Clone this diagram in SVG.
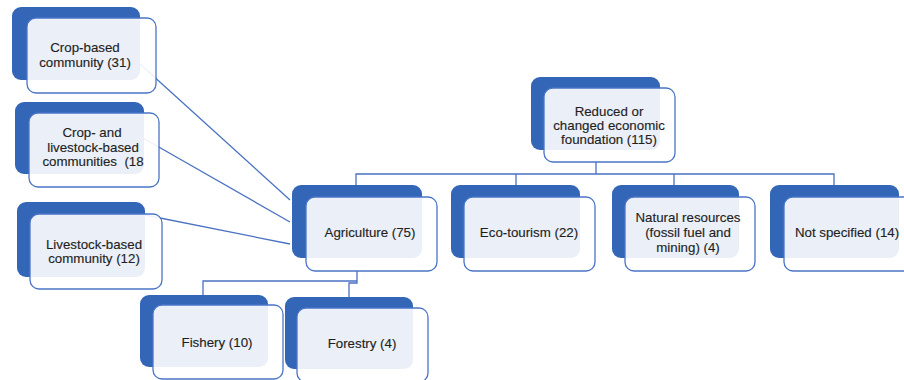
<svg xmlns="http://www.w3.org/2000/svg" width="904" height="380" viewBox="0 0 904 380">
<style>
.bk{fill:#3466b8;}
.fr{fill:#ffffff;fill-opacity:0.9;stroke:#4a74c6;stroke-width:1.3;}
.c{fill:none;stroke:#4a72c2;stroke-width:1.3;}
text{font-family:"Liberation Sans",Arial,sans-serif;font-size:13.3px;fill:#1f1f1f;stroke:#1f1f1f;stroke-width:0.15;text-anchor:middle;}
</style>
<rect width="904" height="380" fill="#ffffff"/>
<g id="connectors">
<path class="c" d="M140 64 L290 200"/>
<path class="c" d="M143 138 L290 222"/>
<path class="c" d="M145 215 L290 244"/>
<path class="c" d="M596 162 V174 M356 185 V174 H834 V185 M516 174 V185 M674 174 V185"/>
<path class="c" d="M357 271 V283 H349 V297 M203 295 V281 H357"/>
</g>
<g id="n-crop">
<rect class="bk" x="12" y="7" width="128" height="73" rx="9"/>
<rect class="fr" x="27" y="18" width="129" height="75" rx="9"/>
<text x="85" y="52">Crop-based</text>
<text x="85" y="67">community (31)</text>
</g>
<g id="n-croplive">
<rect class="bk" x="15" y="102" width="129" height="72" rx="9"/>
<rect class="fr" x="29" y="113" width="130" height="74" rx="9"/>
<text x="92" y="137">Crop- and</text>
<text x="93" y="152">livestock-based</text>
<text x="93" y="166" xml:space="preserve">communities  (18</text>
</g>
<g id="n-live">
<rect class="bk" x="17" y="202" width="128" height="75" rx="9"/>
<rect class="fr" x="30" y="214" width="132" height="75" rx="9"/>
<text x="94" y="249">Livestock-based</text>
<text x="94" y="263">community (12)</text>
</g>
<g id="n-agri">
<rect class="bk" x="292" y="185" width="130" height="73" rx="9"/>
<rect class="fr" x="306" y="197" width="131" height="74" rx="9"/>
<text x="370" y="237">Agriculture (75)</text>
</g>
<g id="n-root">
<rect class="bk" x="531" y="77" width="129" height="73" rx="9"/>
<rect class="fr" x="544" y="88" width="131" height="74" rx="9"/>
<text x="609" y="116">Reduced or</text>
<text x="609" y="130">changed economic</text>
<text x="609" y="144">foundation (115)</text>
</g>
<g id="n-eco">
<rect class="bk" x="451" y="185" width="129" height="73" rx="9"/>
<rect class="fr" x="464" y="197" width="131" height="74" rx="9"/>
<text x="529" y="237">Eco-tourism (22)</text>
</g>
<g id="n-nat">
<rect class="bk" x="612" y="185" width="127" height="73" rx="9"/>
<rect class="fr" x="625" y="197" width="130" height="74" rx="9"/>
<text x="688" y="222">Natural resources</text>
<text x="688" y="237">(fossil fuel and</text>
<text x="688" y="252">mining) (4)</text>
</g>
<g id="n-notspec">
<rect class="bk" x="770" y="185" width="129" height="73" rx="9"/>
<rect class="fr" x="784" y="197" width="130" height="74" rx="9"/>
<text x="847" y="237">Not specified (14)</text>
</g>
<g id="n-fish">
<rect class="bk" x="140" y="295" width="128" height="72" rx="9"/>
<rect class="fr" x="153" y="305" width="130" height="74" rx="9"/>
<text x="217" y="347">Fishery (10)</text>
</g>
<g id="n-forest">
<rect class="bk" x="285" y="297" width="128" height="72" rx="9"/>
<rect class="fr" x="297" y="308" width="131" height="74" rx="9"/>
<text x="362" y="348">Forestry (4)</text>
</g>
</svg>
